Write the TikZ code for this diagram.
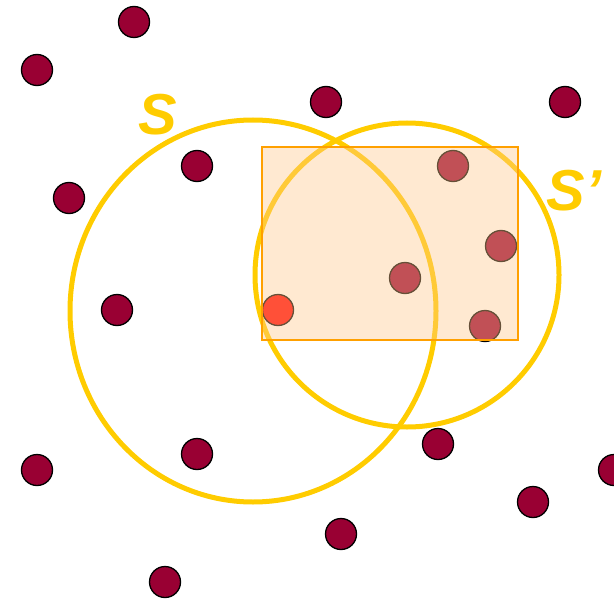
\documentclass[tikz,border=0pt]{standalone}
\usepackage{fontspec}
\setmainfont{Liberation Sans}
\usepackage{xcolor}
\usetikzlibrary{positioning}

\definecolor{wine}{RGB}{153,0,51}
\definecolor{ringyellow}{RGB}{255,204,0}
\definecolor{boxorange}{RGB}{255,160,0}
\definecolor{boxfill}{RGB}{255,200,140}

\begin{document}
\begin{tikzpicture}[x=1bp, y=-1bp,
    dot/.style={circle, draw=black, line width=1.3bp, fill=wine, minimum size=31bp, inner sep=0pt},
    ring/.style={draw=ringyellow, line width=5bp},
    setlabel/.style={text=ringyellow, font=\fontsize{58}{58}\selectfont\bfseries\itshape, inner sep=0pt}]
        \useasboundingbox (0,0) rectangle (614,606);

        % The two sets
        \draw[ring] (253,311) ellipse [x radius=183, y radius=191];
        \draw[ring] (407,275) circle [radius=152];

        % Labels
        \node[setlabel] (labS) at (158,115) {S};
        \node[setlabel] (labSp) at (574,191) {S’};

        % Points
        \foreach \x/\y [count=\i] in {134/22, 37/70, 326/102, 565/102, 197/166, 69/198,
                                       453/166, 501/246, 405/278, 117/310, 485/326,
                                       37/470, 197/454, 438/444, 614/470, 533/502,
                                       341/534, 165/582} {
          \node[dot] (p\i) at (\x,\y) {};
        }

        % The chosen point
        \node[dot, fill=red] (pick) at (278,310) {};

        % Query box
        \node[draw=boxorange, line width=1.8bp, fill=boxfill, fill opacity=0.4,
              minimum width=256bp, minimum height=193bp, inner sep=0pt] (query) at (390,243.5) {};
\end{tikzpicture}
\end{document}
